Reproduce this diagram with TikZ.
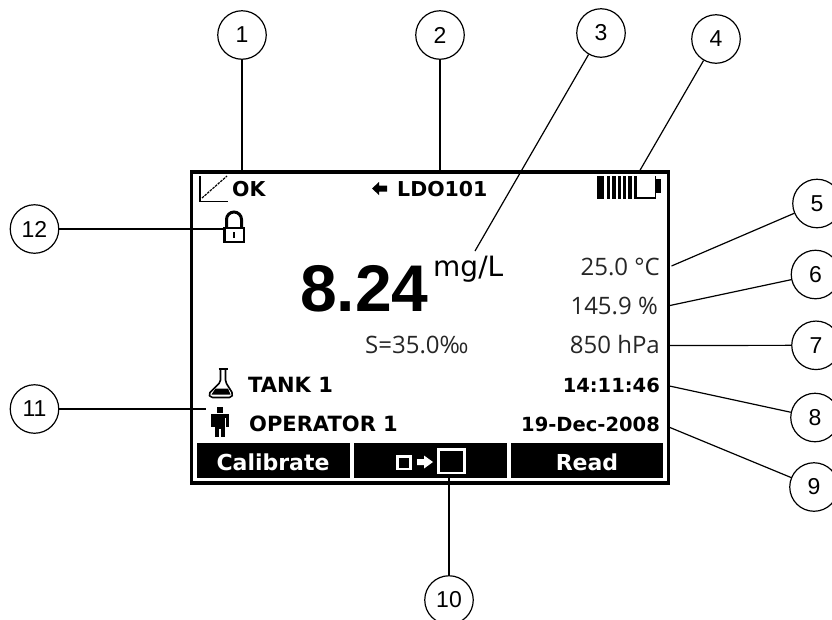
\documentclass[tikz,border=0pt]{standalone}
\usepackage{fontspec}
\setmainfont{Liberation Sans}
\newfontfamily\lcd{DejaVu Sans}
\newfontfamily\lcdthin[Scale=1]{Open Sans}
\begin{document}
\begin{tikzpicture}[x=1pt,y=-1pt,
  callout/.style={circle,draw=black,line width=1.2pt,minimum size=48.5pt,inner sep=0pt,fill=white,font=\fontsize{23}{23}\selectfont},
  leader/.style={draw=black,line width=1.2pt},
  softkey/.style={fill=black,draw=none},
  boldtxt/.style={font=\lcd\bfseries\fontsize{20.5}{20.5}\selectfont,inner sep=0pt},
  clocktxt/.style={font=\lcd\bfseries\fontsize{19.5}{19.5}\selectfont,inner sep=0pt},
  thintxt/.style={font=\lcdthin\fontsize{24}{24}\selectfont,inner sep=0pt,text=black!85},
  keytxt/.style={font=\lcd\bfseries\fontsize{22}{22}\selectfont,inner sep=0pt,text=white},
  icon/.style={draw=black,line width=1.6pt}]
\useasboundingbox (0,0) rectangle (832,619);
% display frame
\draw[line width=3.6pt,black] (191.5,171.7) rectangle (668.5,483);
\fill[softkey] (197,443) rectangle (350,478);
\fill[softkey] (354,443) rectangle (506.5,478);
\fill[softkey] (511,443) rectangle (663,478);
% callouts
\node[callout] (c1) at (242,35) {1};
\node[callout] (c2) at (440,35) {2};
\node[callout] (c3) at (601,33) {3};
\node[callout] (c4) at (716,39) {4};
\node[callout] (c5) at (817,203.5) {5};
\node[callout] (c6) at (815.5,274.5) {6};
\node[callout] (c7) at (816,345.3) {7};
\node[callout] (c8) at (815,417.5) {8};
\node[callout] (c9) at (814,487) {9};
\node[callout] (c10) at (449,600) {10};
\node[callout] (c11) at (34.5,409) {11};
\node[callout] (c12) at (34.5,229) {12};
% free ends
\coordinate (e1) at (242,172);
\coordinate (e2) at (440,172);
\coordinate (e3) at (475,251);
\coordinate (e4) at (639,172);
\coordinate (e5) at (671.5,266);
\coordinate (e6) at (669,305.7);
\coordinate (e7) at (669,345.5);
\coordinate (e8) at (669.5,386);
\coordinate (e9) at (669.5,427.3);
\coordinate (e10) at (449,477);
\coordinate (e11) at (206,409);
\coordinate (e12) at (223,229);
\foreach \n in {1,...,12} {\draw[leader] (c\n) -- (e\n);}
% screen content
\draw[line width=1.3pt] (200,176) -- (200,201.5) -- (228,201.5);
\draw[line width=1.2pt,dash pattern=on 2.5pt off 1pt] (202,198) -- (227,176);
\node[boldtxt,anchor=base west] (ok) at (232,196.5) {OK};
\fill (372,188.5) -- (379,182) -- (379,185.5) -- (387,185.5) -- (387,191.5) -- (379,191.5) -- (379,195) -- cycle;
\node[boldtxt,anchor=base west] (ldo) at (397,196.5) {LDO101};
% battery
\fill (597,175.5) rectangle (604,198.5);
\foreach \x in {607,612.3,617.6,622.9,628.2,633.5} {\fill (\x,175.5) rectangle +(3.3,23);}
\draw[line width=1.1pt] (636,198) -- (655.5,198) -- (655.5,175.5);
\fill (656,179) rectangle (661,193);
% lock
\draw[icon,line width=3pt] (226.5,227) -- (226.5,219.5) arc[start angle=180,end angle=360,radius=7.5] -- (241.5,227);
\draw[icon,line width=2.8pt] (224.5,228) rectangle (244,242);
\fill (233,232) rectangle (235,238);
% reading
\node[font=\bfseries\fontsize{66}{66}\selectfont,inner sep=0pt,anchor=base west] (val) at (300,311) {8.24};
\node[font=\lcd\fontsize{28}{28}\selectfont,inner sep=0pt,anchor=base west] (unit) at (433,276) {mg/L};
\node[thintxt,anchor=base east] (t5) at (660,275) {25.0 °C};
\node[thintxt,anchor=base east] (t6) at (658,314) {145.9 \%};
\node[thintxt,anchor=base east] (t7) at (660,353) {850 hPa};
\node[thintxt,anchor=base west] (sal) at (365,353) {S=35.0‰};
\node[clocktxt,anchor=base east] (t8) at (660,392.7) {14:11:46};
\node[clocktxt,anchor=base east] (t9) at (660,431.7) {19-Dec-2008};
\node[font=\lcd\bfseries\fontsize{21}{21}\selectfont,inner sep=0pt,anchor=base west] (tank) at (248,392.7) {TANK 1};
\node[font=\lcd\bfseries\fontsize{21}{21}\selectfont,inner sep=0pt,anchor=base west] (oper) at (249,431.7) {OPERATOR 1};
% flask
\draw[icon] (218.5,369) -- (228,369);
\draw[icon,line join=round,rounded corners=2pt] (220.5,369) -- (220.5,382) -- (208.5,394) -- (210.5,397.5) -- (231.5,397.5) -- (233,394) -- (225.5,382) -- (225.5,369);
\fill (215.5,388.5) -- (228,388.5) -- (230.5,394.5) -- (211.5,394.5) -- cycle;
% person
\fill (217,407) rectangle (223,413);
\fill (211,414) rectangle (229,418);
\fill (211,414) rectangle (214.5,427);
\fill (225.5,414) rectangle (229,427);
\fill (215,414) rectangle (225,429);
\fill (215,429) rectangle (219,437);
\fill (221,429) rectangle (225,437);
% softkeys
\node[keytxt,anchor=base] (k1) at (273,470) {Calibrate};
\node[keytxt,anchor=base] (k3) at (587,470) {Read};
\draw[white,line width=2.8pt] (397.5,456.5) rectangle (410.5,469);
\fill[white] (417,459) -- (424,459) -- (424,455.5) -- (433,462) -- (424,468.5) -- (424,465) -- (417,465) -- cycle;
\draw[white,line width=2.8pt] (438.3,449.3) rectangle (464.7,473);
\end{tikzpicture}
\end{document}
